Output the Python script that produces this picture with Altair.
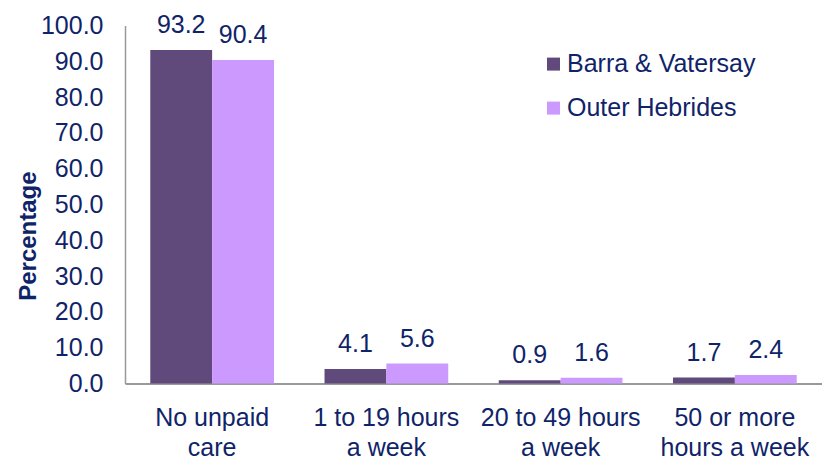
import altair as alt
import pandas as pd

categories = ["No unpaid|care", "1 to 19 hours|a week", "20 to 49 hours|a week", "50 or more|hours a week"]
series = ["Barra & Vatersay", "Outer Hebrides"]
barra = [93.2, 4.1, 0.9, 1.7]
outer = [90.4, 5.6, 1.6, 2.4]
colors = ["#604A7B", "#CC99FF"]

rows = []
for c, b, o in zip(categories, barra, outer):
    rows.append({"cat": c, "series": series[0], "value": b})
    rows.append({"cat": c, "series": series[1], "value": o})
df = pd.DataFrame(rows)

navy = "#0F2468"
font = "Liberation Sans"

x = alt.X("cat:N", sort=categories, title=None,
          scale=alt.Scale(paddingInner=0.29, paddingOuter=0.145),
          axis=alt.Axis(labelExpr="split(datum.label, '|')", labelAngle=0,
                        labelFontSize=25, labelColor=navy, labelFont=font,
                        labelLineHeight=30, labelPadding=22, ticks=False,
                        labelLimit=300,
                        domainColor="#999999", domainWidth=2))
xo = alt.XOffset("series:N", sort=series, scale=alt.Scale(paddingInner=0, paddingOuter=0))
y = alt.Y("value:Q", title="Percentage",
          scale=alt.Scale(domain=[0, 100], nice=False),
          axis=alt.Axis(values=list(range(0, 101, 10)), format=".1f", grid=False,
                        ticks=False, labelFontSize=25, labelColor=navy, labelFont=font,
                        labelPadding=22, domainColor="#999999", domainWidth=1.5,
                        titleFontSize=24, titleFont=font, titleColor=navy,
                        titleFontWeight="bold", titleX=-85, titleY=210))

bars = alt.Chart(df).mark_bar().encode(
    x=x, xOffset=xo, y=y,
    color=alt.Color("series:N", sort=series, title=None,
                    scale=alt.Scale(domain=series, range=colors),
                    legend=alt.Legend(orient="none", legendX=416, legendY=26,
                                      symbolType="square", symbolSize=169,
                                      symbolStrokeWidth=0, labelFontSize=25,
                                      labelColor=navy, labelFont=font,
                                      labelLimit=400,
                                      rowPadding=18, labelOffset=1)),
)

labels = alt.Chart(df).mark_text(fontSize=25, font=font, color=navy,
                                 baseline="alphabetic", dy=-17).encode(
    x=x, xOffset=xo, y=y, text=alt.Text("value:Q", format=".1f"))

chart = alt.layer(bars, labels).properties(
    width=697, height=358,
    autosize=alt.AutoSizeParams(type="none"),
    padding={"left": 117, "top": 17.6, "right": 0, "bottom": 80},
).configure_view(stroke=None)

chart.save("out.html", embed_options={"renderer": "svg", "actions": False})
